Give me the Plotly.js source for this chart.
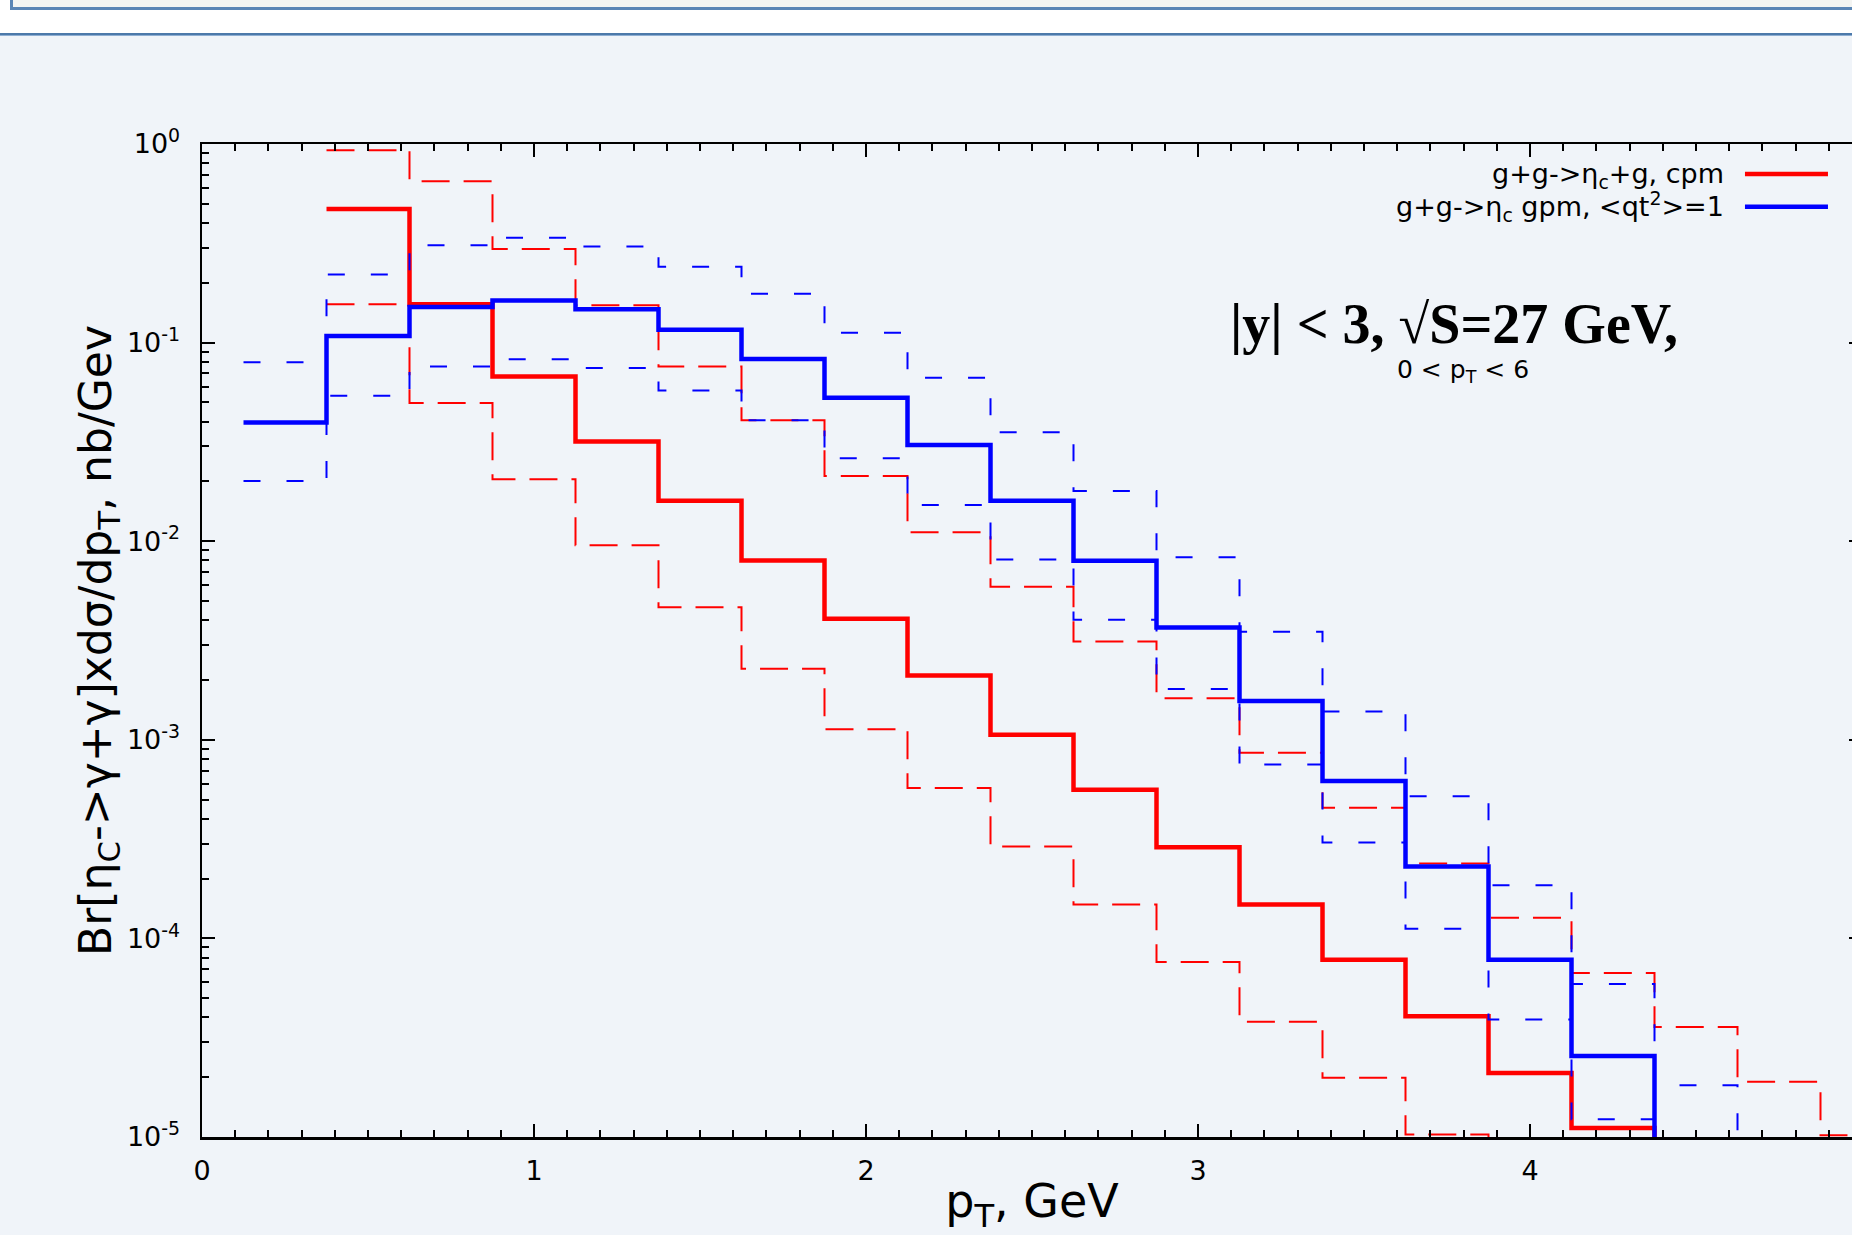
<!DOCTYPE html>
<html>
<head>
<meta charset="utf-8">
<script src="https://cdn.plot.ly/plotly-3.0.1.min.js"></script>
<style>
  html, body { margin:0; padding:0; width:1852px; height:1235px; overflow:hidden; background:#f0f4f9; }
  #band { position:absolute; left:0; top:0; width:1852px; height:33px; background:#ffffff; }
  #box { position:absolute; left:10px; top:-10px; width:1900px; height:17px; background:#f3f4f2;
         border-left:3px solid #5a85b5; border-bottom:3px solid #5a85b5; }
  #rule { position:absolute; left:0; top:33px; width:1852px; height:2px; background:#4c79aa;
          border-bottom:1px solid #8eaed2; }
  #plot { position:absolute; left:0; top:0; width:1866px; height:1235px; }
</style>
</head>
<body>
<div id="band"></div>
<div id="box"></div>
<div id="rule"></div>
<div id="plot"></div>
<script>
// bin centres of the pT histogram (GeV)
const binCenters = [0.25, 0.5, 0.75, 1.0, 1.25, 1.5, 1.75, 2.0, 2.25, 2.5,
                    2.75, 3.0, 3.25, 3.5, 3.75, 4.0, 4.25, 4.5, 4.75, 5.0];

// g+g->eta_c+g, cpm  (central, upper, lower)
const cpm   = [null, 0.470, 0.156, 0.0675, 0.0318, 0.0160, 0.0080, 0.00407, 0.00211, 0.00106,
               0.00056, 0.000288, 0.000148, 7.8e-5, 4.05e-5, 2.1e-5, 1.11e-5, 0, null, null];
const cpmUp = [null, 0.93, 0.65, 0.296, 0.154, 0.0758, 0.0406, 0.0213, 0.0111, 0.0059,
               0.00313, 0.00162, 0.00086, 0.000455, 0.000238, 0.000127, 6.7e-5, 3.58e-5, 1.9e-5, 1.02e-5];
const cpmLo = [null, 0.156, 0.0496, 0.0205, 0.00955, 0.00465, 0.00228, 0.00113, 0.000572, 0.00029,
               0.000148, 7.6e-5, 3.8e-5, 1.99e-5, 1.03e-5, 0, null, null, null, null];

// g+g->eta_c gpm, <qt^2>=1  (central, upper, lower)
const gpm   = [0.0396, 0.108, 0.151, 0.163, 0.147, 0.116, 0.0828, 0.0527, 0.0305, 0.0160,
               0.00797, 0.00368, 0.00157, 0.00062, 0.00023, 7.8e-5, 2.56e-5, 0, null, null];
const gpmUp = [0.0796, 0.220, 0.309, 0.337, 0.305, 0.241, 0.176, 0.112, 0.0665, 0.0354,
               0.0179, 0.0083, 0.0035, 0.00139, 0.00052, 0.000185, 5.9e-5, 1.82e-5, 0, null];
const gpmLo = [0.0201, 0.054, 0.0758, 0.0825, 0.0744, 0.0574, 0.0406, 0.0262, 0.0152, 0.00808,
               0.00402, 0.00180, 0.00075, 0.000304, 0.000112, 3.9e-5, 1.23e-5, 0, null, null];

const xTickVals = [0, 1, 2, 3, 4, 5];
const xTickText = ['0', '1', '2', '3', '4', '5'];
const yTickVals = [1e-5, 1e-4, 1e-3, 1e-2, 1e-1, 1];
const yTickText = ['10<sup>-5</sup>', '10<sup>-4</sup>', '10<sup>-3</sup>',
                   '10<sup>-2</sup>', '10<sup>-1</sup>', '10<sup>0</sup>'];

const legendNames = ['g+g-&gt;η<sub>c</sub>+g, cpm', 'g+g-&gt;η<sub>c</sub> gpm, &lt;qt<sup>2</sup>&gt;=1'];
const RED = '#ff0000', BLUE = '#0000ff';

// minor log ticks 2..9 per decade
const yMinor = [];
for (let e = -5; e < 0; e++) for (let k = 2; k <= 9; k++) yMinor.push(k * Math.pow(10, e));

const half = (binCenters[1] - binCenters[0]) / 2;
const FLOOR = 1e-9; // empty bin: drawn below the axis
function stepTrace(vals, name, color, width, dash) {
  const xs = [], ys = [];
  let last = -1;
  for (let i = 0; i < vals.length; i++) {
    const v = vals[i];
    if (v === null) continue;
    xs.push(binCenters[i] - half);
    ys.push(v > 0 ? v : FLOOR);
    last = i;
  }
  xs.push(binCenters[last] + half);
  ys.push(ys[ys.length - 1]);
  return { x: xs, y: ys, type: 'scatter', mode: 'lines', name: name, showlegend: false,
           line: { shape: 'hv', color: color, width: width, dash: dash }, hoverinfo: 'skip' };
}

const traces = [
  stepTrace(cpm,   legendNames[0], RED, 4.5, 'solid'),
  stepTrace(cpmUp, 'cpm upper', RED, 2, '28px,14px'),
  stepTrace(cpmLo, 'cpm lower', RED, 2, '28px,14px'),
  stepTrace(gpm,   legendNames[1], BLUE, 4.5, 'solid'),
  stepTrace(gpmUp, 'gpm upper', BLUE, 2, '17px,26px'),
  stepTrace(gpmLo, 'gpm lower', BLUE, 2, '17px,26px')
];

const F = 'DejaVu Sans, sans-serif';
const layout = {
  width: 1866, height: 1235,
  margin: { l: 202, r: 4, t: 144, b: 98, pad: 0 },
  paper_bgcolor: 'rgba(0,0,0,0)', plot_bgcolor: 'rgba(0,0,0,0)',
  showlegend: false,
  xaxis: {
    range: [0, 5], tickmode: 'array', tickvals: xTickVals, ticktext: xTickText,
    ticks: 'inside', ticklen: 13, tickwidth: 2, tickcolor: '#000',
    showline: true, linecolor: '#000', linewidth: 2.5, mirror: 'allticks',
    showgrid: false, zeroline: false, ticklabelstandoff: 8,
    tickfont: { family: F, size: 27, color: '#000' },
    minor: { dtick: 0.1, tick0: 0, ticks: 'inside', ticklen: 7, tickwidth: 2, tickcolor: '#000', showgrid: false },
    title: { text: 'p<sub>T</sub>, GeV', font: { family: F, size: 46, color: '#000' }, standoff: 18 }
  },
  yaxis: {
    type: 'log', range: [-5, 0], tickmode: 'array', tickvals: yTickVals, ticktext: yTickText,
    ticks: 'inside', ticklen: 13, tickwidth: 2, tickcolor: '#000',
    showline: true, linecolor: '#000', linewidth: 2.5, mirror: 'allticks',
    showgrid: false, zeroline: false, ticklabelstandoff: 14,
    tickfont: { family: F, size: 27, color: '#000' },
    minor: { tickmode: 'array', tickvals: yMinor, ticks: 'inside', ticklen: 7, tickwidth: 2, tickcolor: '#000', showgrid: false },
    title: { text: 'Br[η<sub>C</sub>-&gt;γ+γ]xdσ/dp<sub>T</sub>, nb/Gev', font: { family: F, size: 44, color: '#000' }, standoff: 2 }
  },
  annotations: [
    { xref: 'paper', yref: 'paper', x: 0.918, y: 0.9685, xanchor: 'right', yanchor: 'middle',
      text: legendNames[0], showarrow: false, font: { family: F, size: 27, color: '#000' } },
    { xref: 'paper', yref: 'paper', x: 0.918, y: 0.9372, xanchor: 'right', yanchor: 'middle',
      text: legendNames[1], showarrow: false, font: { family: F, size: 27, color: '#000' } },
    { xref: 'paper', yref: 'paper', x: 0.754, y: 0.8190, xanchor: 'center', yanchor: 'middle',
      text: '<b>|y| &lt; 3, √S=27 GeV,</b>', showarrow: false,
      font: { family: 'Liberation Serif, Times New Roman, serif', size: 56, color: '#000' } },
    { xref: 'paper', yref: 'paper', x: 0.7596, y: 0.7715, xanchor: 'center', yanchor: 'middle',
      text: '0 &lt; p<sub>T</sub> &lt; 6', showarrow: false, font: { family: F, size: 25, color: '#000' } }
  ],
  shapes: [
    { type: 'line', xref: 'paper', yref: 'paper', x0: 0.9295, x1: 0.9795, y0: 0.9698, y1: 0.9698,
      line: { color: RED, width: 4.5 } },
    { type: 'line', xref: 'paper', yref: 'paper', x0: 0.9295, x1: 0.9795, y0: 0.9367, y1: 0.9367,
      line: { color: BLUE, width: 4.5 } }
  ]
};

Plotly.newPlot('plot', traces, layout, { staticPlot: true, displayModeBar: false });
</script>
</body>
</html>
